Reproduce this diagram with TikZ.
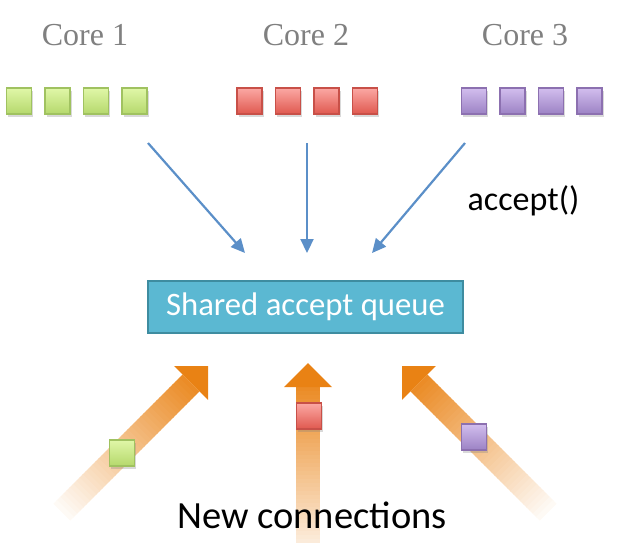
\documentclass[tikz,border=0pt]{standalone}
\usepackage{fontspec}
\setmainfont{Liberation Serif}
\newfontfamily\calibri{Carlito}
\usetikzlibrary{arrows.meta,shadows}
\definecolor{coregray}{RGB}{128,128,128}
\definecolor{greentop}{RGB}{224,247,168}
\definecolor{greenbot}{RGB}{181,216,108}
\definecolor{greenedge}{RGB}{160,194,96}
\definecolor{redtop}{RGB}{251,168,164}
\definecolor{redbot}{RGB}{224,89,79}
\definecolor{rededge}{RGB}{200,80,72}
\definecolor{purpletop}{RGB}{210,190,238}
\definecolor{purplebot}{RGB}{156,130,196}
\definecolor{purpleedge}{RGB}{140,112,176}
\definecolor{arrowblue}{RGB}{91,143,200}
\definecolor{queuefill}{RGB}{91,184,210}
\definecolor{queueedge}{RGB}{62,140,160}
\definecolor{orangehead}{RGB}{233,130,20}
\newcommand{\connarrow}[4]{%
  \begin{scope}[shift={#1},rotate=#2]
    \foreach \k in {0,...,39} {
      \pgfmathsetmacro\mix{92-\k*#4/40}
      \fill[orangehead!\mix!white] (-12,{24+\k*(#3-24)/40}) rectangle (12,{24+(\k+1)*(#3-24)/40+0.8});
    }
    \fill[orangehead] (0,0) -- (24,24) -- (-24,24) -- cycle;
  \end{scope}}
\begin{document}
\begin{tikzpicture}[x=1pt,y=-1pt,
  sq/.style={minimum width=25pt,minimum height=26pt,inner sep=0pt,line width=1.1pt,
    drop shadow={shadow xshift=1.5pt,shadow yshift=-2.5pt,opacity=0.3}},
  sqgreen/.style={sq,draw=greenedge,top color=greentop,bottom color=greenbot},
  sqred/.style={sq,draw=rededge,top color=redtop,bottom color=redbot},
  sqpurple/.style={sq,draw=purpleedge,top color=purpletop,bottom color=purplebot},
  core/.style={text=coregray,anchor=base,font=\fontsize{32}{38}\selectfont},
  accarrow/.style={draw=arrowblue,line width=2.2pt,-{Triangle[length=14pt,width=13pt]}}]
\useasboundingbox (0,0) rectangle (620,542);

\node[core] (core1) at (85,45) {Core 1};
\node[core] (core2) at (306,45) {Core 2};
\node[core] (core3) at (525,45) {Core 3};

\foreach \i in {0,...,3} {
  \node[sqgreen] (g\i) at ({19+38.5*\i},101) {};
  \node[sqred] (r\i) at ({249.5+38.5*\i},101) {};
  \node[sqpurple] (p\i) at ({474+38.5*\i},101) {};
}

\node[draw=queueedge,fill=queuefill,line width=2pt,minimum width=315pt,minimum height=52pt,
  text=white,font=\calibri\fontsize{32.7}{38}\selectfont] (queue) at (305.5,307) {Shared accept queue};

\coordinate (from1) at (148,143);
\coordinate (from2) at (307,143);
\coordinate (from3) at (465,143);
\coordinate (to1) at (245,253);
\coordinate (to2) at (307,253);
\coordinate (to3) at (372,253);
\draw[accarrow] (from1) -- (to1);
\draw[accarrow] (from2) -- (to2);
\draw[accarrow] (from3) -- (to3);
\node[anchor=base,font=\calibri\fontsize{34}{40}\selectfont] (accept) at (523.5,210) {accept()};

\connarrow{(208,366)}{-45}{206}{90}
\connarrow{(308,363)}{0}{184}{80}
\connarrow{(402,366)}{45}{206}{90}

\node[sqgreen] (gnew) at (122,453) {};
\node[sqred] (rnew) at (309,416) {};
\node[sqpurple] (pnew) at (474,437) {};

\node[anchor=base,font=\calibri\fontsize{38.5}{44}\selectfont] (conn) at (312,528) {New connections};
\end{tikzpicture}
\end{document}
